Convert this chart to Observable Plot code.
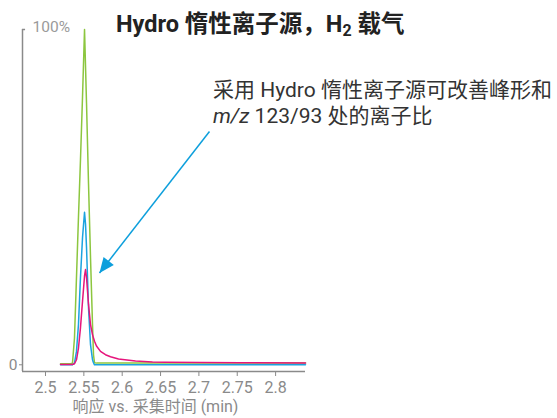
<!DOCTYPE html>
<html>
<head>
<meta charset="utf-8">
<script src="https://cdn.jsdelivr.net/npm/d3@7"></script>
<script src="https://cdn.jsdelivr.net/npm/@observablehq/plot@0.6"></script>
<style>
  html, body { margin: 0; padding: 0; background: #fff; }
  #wrap { position: relative; width: 557px; height: 418px; font-family: Roboto, "Noto Sans CJK SC", sans-serif; }
  #title { position: absolute; left: 116px; top: 13px; font-size: 23.5px; font-weight: bold; color: #222; line-height: 23px; white-space: nowrap; }
  #title sub { font-size: 0.68em; vertical-align: -0.25em; line-height: 0; }
  #note { position: absolute; left: 213px; top: 77px; font-size: 21px; color: #333; line-height: 26px; white-space: nowrap; }
</style>
</head>
<body>
<div id="wrap">
  <div id="title">Hydro 惰性离子源，H<sub>2</sub> 载气</div>
  <div id="note">采用 Hydro 惰性离子源可改善峰形和<br><i>m/z</i> 123/93 处的离子比</div>
</div>
<script>
// ---- data ----
const times = [2.5248, 2.5378, 2.5404, 2.5430, 2.5456, 2.5482, 2.5508, 2.5535, 2.5561, 2.5574, 2.5587, 2.5613, 2.5639, 2.5665, 2.5678, 2.5691, 2.5717, 2.5769, 2.5834, 2.5900, 2.6004, 2.6226, 2.6447, 2.6617, 2.7073, 2.7595, 2.8442];
const green   = [0.3, 0.3, 0.5, 8, 26, 44, 61, 80, 100, 89, 78, 54, 32, 12, 3, 0.6, 0.5, 0.5, 0.5, 0.5, 0.5, 0.5, 0.5, 0.5, 0.5, 0.5, 0.5];
const blue    = [0, 0, 0, 0.5, 4, 12, 26, 38, 45.5, 42, 35, 17, 6, 1.5, 0.6, 0, 0, 0, 0, 0, 0, 0, 0, 0, 0, 0, 0];
const magenta = [0.1, 0.1, 0.1, 0.3, 1.5, 5, 11, 19, 26.5, 28.4, 26, 18, 12, 9, 8, 7, 5.6, 4.0, 3.0, 2.4, 1.7, 1.1, 0.85, 0.75, 0.65, 0.6, 0.55];
const xTicks = [2.5, 2.55, 2.6, 2.65, 2.7, 2.75, 2.8];
const xLabel = "响应 vs. 采集时间 (min)";
const yTop = 100, yTopLabel = "100%";
const arrowFrom = {x: 2.7190, y: 69.6};
const arrowTo   = {x: 2.5756, y: 27.4};

const xDomain = [2.47523, 2.84420];
const yDomain = [-2, 100];
const W = 557, H = 418, mL = 22, mR = 252, mT = 29, mB = 47;

const mk = (vals) => times.map((t, i) => ({t, v: vals[i]}));
const gray = "#8a8a8a";
const cGreen = "#8cc63f", cBlue = "#1ba3e0", cMag = "#e6157c", cArrow = "#0d9fdc";

// screen-space direction of the arrow, for the filled head
const sx = Plot.scale({x: {domain: xDomain, range: [mL, W - mR]}});
const sy = Plot.scale({y: {domain: yDomain, range: [H - mB, mT]}});
const dxs = sx.apply(arrowFrom.x) - sx.apply(arrowTo.x);
const dys = sy.apply(arrowFrom.y) - sy.apply(arrowTo.y);
const len = Math.hypot(dxs, dys);
const ux = dxs / len, uy = dys / len, px = -uy, py = ux;
const headL = 15, headW = 6.5;
const headSymbol = {
  draw(ctx) {
    ctx.moveTo(0, 0);
    ctx.lineTo(ux * headL + px * headW, uy * headL + py * headW);
    ctx.lineTo(ux * headL - px * headW, uy * headL - py * headW);
    ctx.closePath();
  }
};

const chart = Plot.plot({
  width: W, height: H,
  marginLeft: mL, marginRight: mR, marginTop: mT, marginBottom: mB,
  style: {fontFamily: 'Roboto, "Noto Sans CJK SC", sans-serif', background: "transparent", overflow: "visible"},
  x: {domain: xDomain, axis: null},
  y: {domain: yDomain, axis: null},
  marks: [
    Plot.ruleY([-2], {stroke: gray, strokeWidth: 1.5}),
    Plot.ruleX([xDomain[0]], {y1: -2, y2: yTop, stroke: gray, strokeWidth: 1.5}),
    Plot.ruleY([yTop], {x1: xDomain[0], x2: xDomain[0] + 0.004, stroke: gray, strokeWidth: 1.5}),
    Plot.text([yTopLabel], {x: xDomain[0], y: yTop, dx: 10, dy: -2, textAnchor: "start", fontSize: 15.5, fill: "#9a9a9a"}),
    Plot.axisY({ticks: [0], tickFormat: () => "0", tickSize: 3, tickPadding: 2, fontSize: 15.5, color: gray, anchor: "left", label: null}),
    Plot.axisX({ticks: xTicks, tickFormat: d => String(d), tickSize: 5, tickPadding: 5, fontSize: 16, dx: 4, color: gray, anchor: "bottom", label: null}),
    Plot.text([xLabel], {x: 2.6486, frameAnchor: "bottom", dy: 40, fontSize: 16, fill: gray}),
    Plot.line(mk(green), {x: "t", y: "v", stroke: cGreen, strokeWidth: 1.5}),
    Plot.line(mk(blue), {x: "t", y: "v", stroke: cBlue, strokeWidth: 1.5}),
    Plot.line(mk(magenta), {x: "t", y: "v", stroke: cMag, strokeWidth: 1.5}),
    Plot.link([{x1: arrowFrom.x, y1: arrowFrom.y, x2: arrowTo.x, y2: arrowTo.y}], {x1: "x1", y1: "y1", x2: "x2", y2: "y2", stroke: cArrow, strokeWidth: 1.5}),
    Plot.dot([arrowTo], {x: "x", y: "y", symbol: headSymbol, fill: cArrow, stroke: "none", r: 5})
  ]
});
chart.style.position = "absolute";
chart.style.left = "0";
chart.style.top = "0";
document.getElementById("wrap").prepend(chart);
</script>
</body>
</html>
